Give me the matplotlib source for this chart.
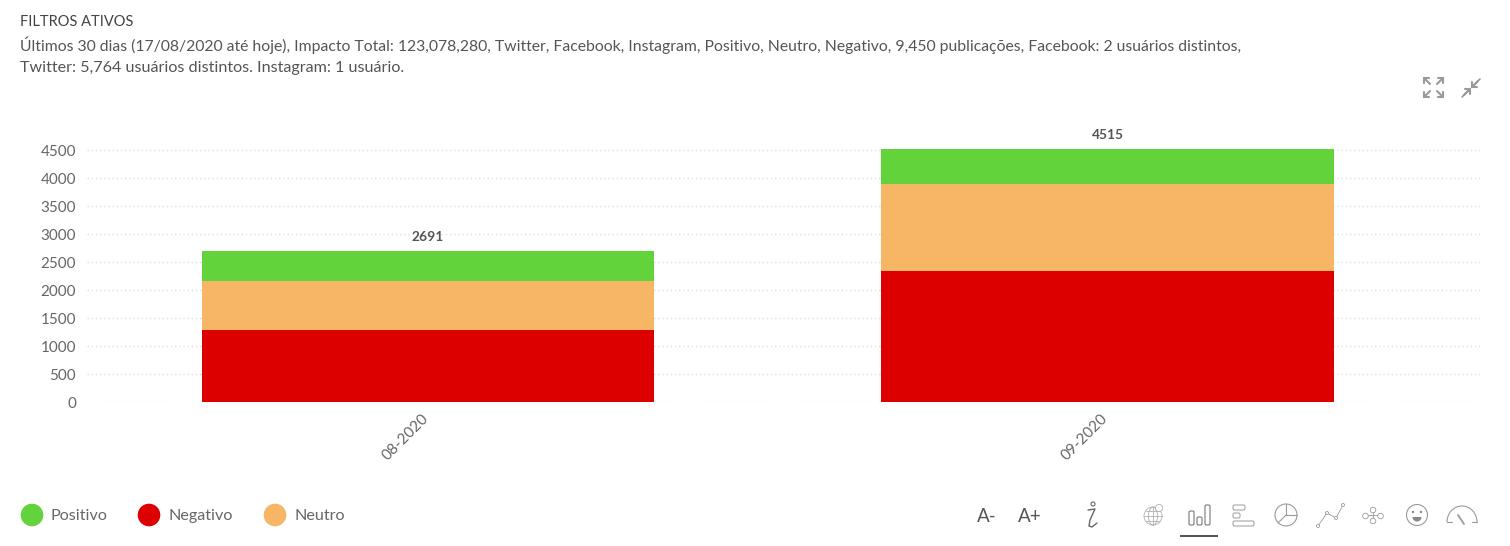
"""Stacked monthly sentiment bars with the dashboard header, legend and toolbar."""

import matplotlib

matplotlib.use("Agg")

import matplotlib.pyplot as plt
import numpy as np
from matplotlib.patches import Arc, Circle, FancyBboxPatch, Rectangle, Wedge
from matplotlib.transforms import ScaledTranslation

plt.rcParams["font.family"] = ["Lato", "Open Sans", "DejaVu Sans"]

W, H = 1510, 546

MONTHS = ["08-2020", "09-2020"]
NEGATIVO = [1286, 2340]
NEUTRO = [875, 1553]
POSITIVO = [530, 622]
TOTALS = [2691, 4515]
Y_TICKS = [0, 500, 1000, 1500, 2000, 2500, 3000, 3500, 4000, 4500]

HEADER = "FILTROS ATIVOS"
SUMMARY = [
    "Últimos 30 dias (17/08/2020 até hoje), Impacto Total: 123,078,280, Twitter, Facebook, "
    "Instagram, Positivo, Neutro, Negativo, 9,450 publicações, Facebook: 2 usuários distintos,",
    "Twitter: 5,764 usuários distintos. Instagram: 1 usuário.",
]
LEGEND = [("Positivo", "#63d33b"), ("Negativo", "#dd0000"), ("Neutro", "#f7b666")]

ICON = "#9a9a9a"


def draw_chart(fig):
    # axes box in pixels: left 87, right 1480, y=0 at 402, 4500 at 150
    ax = fig.add_axes([87 / W, 1 - 402 / H, (1480 - 87) / W, 320 / H])
    x = np.arange(len(MONTHS))
    ax.bar(x, NEGATIVO, width=0.666, color="#dd0000", zorder=3)
    ax.bar(x, NEUTRO, width=0.666, bottom=NEGATIVO, color="#f7b666", zorder=3)
    bottoms = np.array(NEGATIVO) + np.array(NEUTRO)
    ax.bar(x, POSITIVO, width=0.666, bottom=bottoms, color="#63d33b", zorder=3)
    for i, total in enumerate(TOTALS):
        ax.annotate(str(total), (i, total), xytext=(0, 5.7), textcoords="offset points",
                    ha="center", va="bottom", fontsize=9.9, fontweight="bold", color="#555555")

    ax.set_xlim((87 - 428) / 679.5, (1480 - 428) / 679.5)
    ax.set_ylim(0, 320 / 0.056)
    ax.set_yticks(Y_TICKS)
    ax.set_xticks(x)
    labels = ax.set_xticklabels(MONTHS, rotation=45, ha="right", rotation_mode="anchor",
                                fontsize=11, color="#666666")
    ax.tick_params(axis="y", length=0, pad=8, labelsize=11, labelcolor="#666666")
    ax.tick_params(axis="x", length=0, pad=6.5)
    # tick_params resets label transforms, so the nudge has to come after it
    shift = ScaledTranslation(-5 / 72, 0, fig.dpi_scale_trans)
    for lab in labels:
        lab.set_transform(lab.get_transform() + shift)
    ax.grid(axis="y", color="#dddddd", linewidth=1, linestyle=(0, (1, 2)), zorder=0)
    ax.patch.set_alpha(0)
    for spine in ax.spines.values():
        spine.set_visible(False)


def line(ov, xs, ys, lw=0.8, color=ICON):
    ov.plot(xs, ys, color=color, linewidth=lw, solid_capstyle="round")


def ring(ov, cx, cy, r, lw=0.7, color=ICON):
    ov.add_patch(Circle((cx, cy), r, fill=False, edgecolor=color, linewidth=lw))


def rbox(ov, x, y, w, h, lw=0.7, color=ICON):
    ov.add_patch(FancyBboxPatch((x, y), w, h, boxstyle="round,pad=0,rounding_size=1.5",
                                fill=False, edgecolor=color, linewidth=lw))


def arrow_head(ov, tipx, tipy, dx, dy, color="#999999"):
    # small corner arrow: shaft plus two head strokes
    line(ov, [tipx, tipx + dx * 6], [tipy, tipy + dy * 6], 1.5, color)
    line(ov, [tipx, tipx + dx * 5], [tipy, tipy], 1.5, color)
    line(ov, [tipx, tipx], [tipy, tipy + dy * 5], 1.5, color)


def draw_overlay(fig):
    ov = fig.add_axes([0, 0, 1, 1], zorder=5)
    ov.set_xlim(0, W)
    ov.set_ylim(H, 0)
    ov.axis("off")

    ov.text(20, 22, HEADER, fontsize=10.55, color="#444444", va="center")
    ov.text(20, 45.5, SUMMARY[0], fontsize=11.35, color="#555555", va="center")
    ov.text(20, 68, SUMMARY[1], fontsize=11.6, color="#555555", va="center")

    # expand / compress
    for tx, ty, dx, dy in [(1424, 78, 1, 1), (1443, 78, -1, 1), (1424, 97, 1, -1), (1443, 97, -1, -1)]:
        arrow_head(ov, tx, ty, dx, dy)
    arrow_head(ov, 1470, 89, -1, 1)
    line(ov, [1462, 1470], [97, 89], 1.2, "#999999")
    arrow_head(ov, 1472, 87, 1, -1)
    line(ov, [1472, 1480], [87, 79], 1.2, "#999999")

    # legend
    for (label, color), cx, tx in zip(LEGEND, [32, 149, 275], [51, 168, 294]):
        ov.add_patch(Circle((cx, 515), 11.3, color=color, linewidth=0))
        ov.text(tx, 516, label, fontsize=11.6, color="#666666", va="center")

    # toolbar
    ov.text(987, 516, "A-", fontsize=13.6, color="#555555", ha="center", va="center")
    ov.text(1030, 516, "A+", fontsize=13.6, color="#555555", ha="center", va="center")

    # info
    ring(ov, 1093, 504, 2.0, 0.8, "#666666")
    line(ov, [1088, 1095, 1090, 1089, 1092, 1097], [510, 509, 520, 526, 527, 523], 1.0, "#666666")

    # globe
    ring(ov, 1153, 516, 9, 0.6, "#b0b0b0")
    ov.add_patch(Arc((1153, 516), 9, 18, edgecolor="#b0b0b0", linewidth=0.6))
    line(ov, [1144, 1162], [516, 516], 0.6, "#b0b0b0")
    line(ov, [1146, 1160], [511, 511], 0.6, "#b0b0b0")
    line(ov, [1146, 1160], [521, 521], 0.6, "#b0b0b0")
    line(ov, [1153, 1153], [507, 525], 0.6, "#b0b0b0")
    ov.add_patch(Circle((1159, 508), 3.6, facecolor="white", edgecolor="#b0b0b0", linewidth=0.6, zorder=4))

    # bars (active)
    rbox(ov, 1189, 511, 5, 14, 0.8, "#777777")
    rbox(ov, 1197, 517, 5, 8, 0.8, "#777777")
    rbox(ov, 1205, 505, 5, 20, 0.8, "#777777")
    ov.add_patch(Rectangle((1180, 535), 38, 2, color="#555555", linewidth=0))

    # horizontal bars
    rbox(ov, 1233, 505, 12, 5)
    rbox(ov, 1233, 513, 7, 5)
    rbox(ov, 1233, 521, 21, 5)

    # pie
    ring(ov, 1286, 515, 11, 0.8)
    line(ov, [1286, 1286], [504, 515])
    line(ov, [1286, 1297], [515, 515])
    line(ov, [1286, 1278], [515, 523])

    # line chart
    pts = [(1318, 526), (1327, 513), (1336, 518), (1343, 505)]
    line(ov, [p[0] for p in pts], [p[1] for p in pts], 0.6)
    for p in pts:
        ov.add_patch(Circle(p, 1.5, facecolor="white", edgecolor=ICON, linewidth=0.6, zorder=4))

    # network
    line(ov, [1373, 1373], [509, 520], 0.6)
    line(ov, [1366, 1380], [515, 515], 0.6)
    for p in [(1373, 510), (1365.5, 516), (1380.5, 516), (1373, 521)]:
        ov.add_patch(Circle(p, 2.8, facecolor="white", edgecolor=ICON, linewidth=0.6, zorder=4))

    # smile
    ring(ov, 1417, 515, 10.5, 0.8)
    ov.add_patch(Circle((1413, 512), 1.2, color="#888888", linewidth=0))
    ov.add_patch(Circle((1421, 512), 1.2, color="#888888", linewidth=0))
    ov.add_patch(Wedge((1417, 517), 4.5, 0, 180, color="#888888", linewidth=0))

    # gauge
    ov.add_patch(Arc((1462, 522), 30, 32, theta1=180, theta2=360, edgecolor=ICON, linewidth=0.8))
    line(ov, [1447, 1452], [522, 522])
    line(ov, [1472, 1477], [522, 522])
    line(ov, [1458, 1464], [515, 524], 1.3)


def main():
    fig = plt.figure(figsize=(W / 100, H / 100), dpi=100, facecolor="white")
    draw_chart(fig)
    draw_overlay(fig)
    fig.savefig("out.png", dpi=100)


if __name__ == "__main__":
    main()
